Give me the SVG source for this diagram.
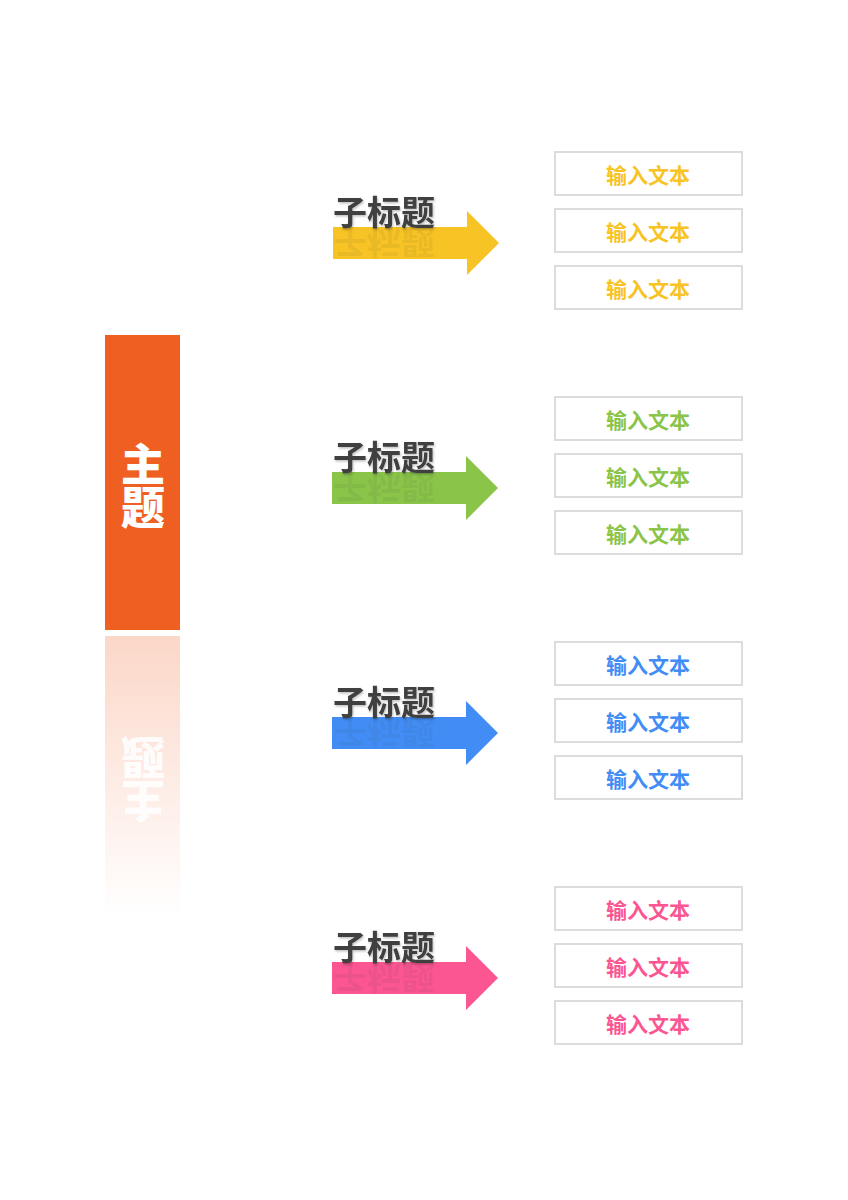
<svg xmlns="http://www.w3.org/2000/svg" width="848" height="1200" viewBox="0 0 848 1200">
<defs>
<style>
.sub{font-family:"Noto Sans CJK SC","Noto Sans",sans-serif;font-weight:700;font-size:34px;fill:#3f3f3f}
.ref{opacity:0.07}
.box{fill:#fff;stroke:#dcdcdc;stroke-width:2}
.bt{font-family:"Noto Sans CJK SC","Noto Sans",sans-serif;font-weight:700;font-size:21px;text-anchor:middle}
.main{font-family:"Noto Sans CJK SC","Noto Sans",sans-serif;font-weight:900;font-size:44px;fill:#fff;text-anchor:middle}
</style>
<linearGradient id="rg" x1="0" y1="0" x2="0" y2="1">
<stop offset="0" stop-color="#F05F22" stop-opacity="0.25"/>
<stop offset="1" stop-color="#F05F22" stop-opacity="0"/>
</linearGradient>
<filter id="sh" x="-10%" y="-10%" width="120%" height="130%">
<feDropShadow dx="1" dy="1.5" stdDeviation="1" flood-color="#000" flood-opacity="0.25"/>
</filter>
<path id="arr" d="M0,-16 H134 V-32 L166,0 L134,32 V16 H0 Z"/>
</defs>

<g id="main-topic">
<rect x="105" y="335" width="75" height="295" fill="#F05F22"/>
<text class="main" x="143" y="481">主</text>
<text class="main" x="143" y="524">题</text>
</g>
<g id="main-reflection">
<rect x="105" y="636" width="75" height="280" fill="url(#rg)"/>
<g transform="translate(0,1265) scale(1,-1)" opacity="0.9">
<text class="main" x="143" y="481">主</text>
<text class="main" x="143" y="524">题</text>
</g>
</g>

<g id="connectors"></g>

<g id="branch1">
<use href="#arr" x="333" y="243" fill="#F7C325"/>
<text class="sub" x="333" y="225" filter="url(#sh)">子标题</text>
<text class="sub ref" x="333" y="225" transform="translate(0,454) scale(1,-1)">子标题</text>
</g>
<g id="branch2">
<use href="#arr" x="332" y="488" fill="#8AC449"/>
<text class="sub" x="333" y="470" filter="url(#sh)">子标题</text>
<text class="sub ref" x="333" y="470" transform="translate(0,944) scale(1,-1)">子标题</text>
</g>
<g id="branch3">
<use href="#arr" x="332" y="733" fill="#418DF5"/>
<text class="sub" x="333" y="715" filter="url(#sh)">子标题</text>
<text class="sub ref" x="333" y="715" transform="translate(0,1434) scale(1,-1)">子标题</text>
</g>
<g id="branch4">
<use href="#arr" x="332" y="978" fill="#FB5592"/>
<text class="sub" x="333" y="960" filter="url(#sh)">子标题</text>
<text class="sub ref" x="333" y="960" transform="translate(0,1924) scale(1,-1)">子标题</text>
</g>

<g id="boxes1">
<rect class="box" x="555" y="152" width="187" height="43"/><text class="bt" x="648" y="183" fill="#F7C325">输入文本</text>
<rect class="box" x="555" y="209" width="187" height="43"/><text class="bt" x="648" y="240" fill="#F7C325">输入文本</text>
<rect class="box" x="555" y="266" width="187" height="43"/><text class="bt" x="648" y="297" fill="#F7C325">输入文本</text>
</g>
<g id="boxes2">
<rect class="box" x="555" y="397" width="187" height="43"/><text class="bt" x="648" y="428" fill="#8AC449">输入文本</text>
<rect class="box" x="555" y="454" width="187" height="43"/><text class="bt" x="648" y="485" fill="#8AC449">输入文本</text>
<rect class="box" x="555" y="511" width="187" height="43"/><text class="bt" x="648" y="542" fill="#8AC449">输入文本</text>
</g>
<g id="boxes3">
<rect class="box" x="555" y="642" width="187" height="43"/><text class="bt" x="648" y="673" fill="#418DF5">输入文本</text>
<rect class="box" x="555" y="699" width="187" height="43"/><text class="bt" x="648" y="730" fill="#418DF5">输入文本</text>
<rect class="box" x="555" y="756" width="187" height="43"/><text class="bt" x="648" y="787" fill="#418DF5">输入文本</text>
</g>
<g id="boxes4">
<rect class="box" x="555" y="887" width="187" height="43"/><text class="bt" x="648" y="918" fill="#FB5592">输入文本</text>
<rect class="box" x="555" y="944" width="187" height="43"/><text class="bt" x="648" y="975" fill="#FB5592">输入文本</text>
<rect class="box" x="555" y="1001" width="187" height="43"/><text class="bt" x="648" y="1032" fill="#FB5592">输入文本</text>
</g>
</svg>
